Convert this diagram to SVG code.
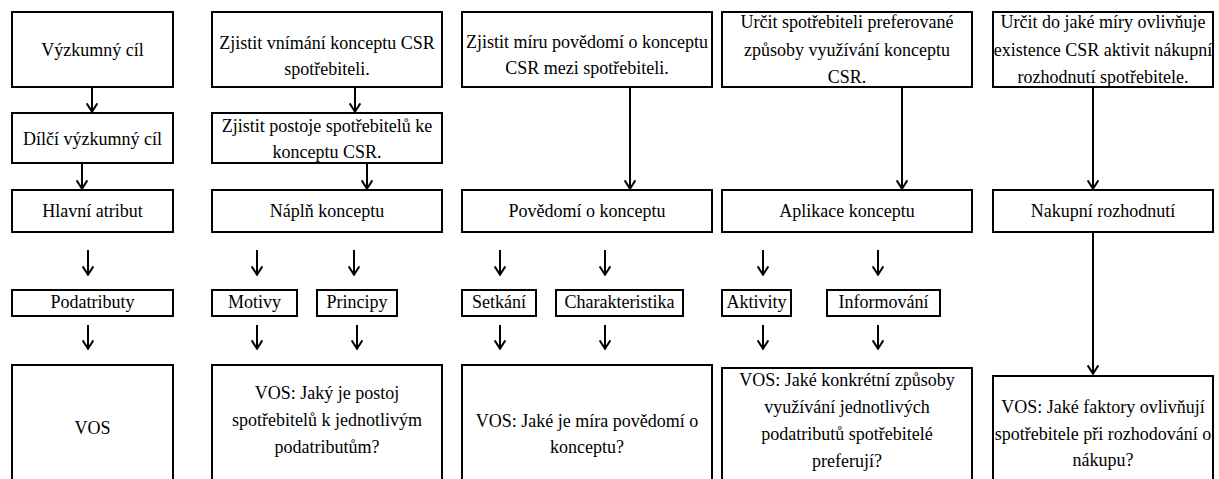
<svg xmlns="http://www.w3.org/2000/svg" width="1219" height="479" viewBox="0 0 1219 479">
<defs>
<style>
.b{fill:#fff;stroke:#000;stroke-width:2}
.t{font-family:'Liberation Serif','Tinos','DejaVu Serif',serif;font-size:18px;fill:#000;text-anchor:middle}
.c{stroke:#000;stroke-width:2;fill:none}
</style>
<marker id="ah" viewBox="0 0 10 12" refX="9.3" refY="6" markerWidth="10" markerHeight="12" markerUnits="userSpaceOnUse" orient="auto">
<polyline points="0.7,0.7 9,6 0.7,11.3" fill="none" stroke="#000" stroke-width="2"/>
</marker>
</defs>
<rect width="1219" height="479" fill="#fff"/>
<g id="connectors">
<g class="c" marker-end="url(#ah)">
<path d="M92,87V112"/>
<path d="M82,163V189"/>
<path d="M88,250V275"/>
<path d="M88,325V349"/>
<path d="M355,87V112"/>
<path d="M367,163V189"/>
<path d="M257,250V275"/>
<path d="M354,250V275"/>
<path d="M257,325V349"/>
<path d="M357,325V349"/>
<path d="M630,87V189"/>
<path d="M500,250V275"/>
<path d="M605,250V275"/>
<path d="M500,325V349"/>
<path d="M605,325V349"/>
<path d="M902,87V189"/>
<path d="M763,250V275"/>
<path d="M878,250V275"/>
<path d="M763,325V349"/>
<path d="M878,325V349"/>
<path d="M1093,87V189"/>
<path d="M1093,232V374"/>
</g>
</g>
<g font-family="Liberation Serif, Tinos, DejaVu Serif, serif">
<g id="n1"><rect class="b" x="12" y="12" width="161" height="75"/><text class="t" x="92.5" y="56">Výzkumný cíl</text></g>
<g id="n2"><rect class="b" x="12" y="113" width="161" height="50"/><text class="t" x="92.5" y="145">Dílčí výzkumný cíl</text></g>
<g id="n3"><rect class="b" x="12" y="190" width="161" height="42"/><text class="t" x="92.5" y="217">Hlavní atribut</text></g>
<g id="n4"><rect class="b" x="12" y="290" width="161" height="26"/><text class="t" x="92.5" y="308">Podatributy</text></g>
<g id="n5"><rect class="b" x="12" y="365" width="161" height="125"/><text class="t" x="92.5" y="434">VOS</text></g>

<g id="c2a"><rect class="b" x="212" y="12" width="230" height="75"/><text class="t" x="327" y="49">Zjistit vnímání konceptu CSR</text><text class="t" x="327" y="75">spotřebiteli.</text></g>
<g id="c2b"><rect class="b" x="212" y="113" width="230" height="50"/><text class="t" x="327" y="132">Zjistit postoje spotřebitelů ke</text><text class="t" x="327" y="158">konceptu CSR.</text></g>
<g id="c2c"><rect class="b" x="212" y="190" width="230" height="42"/><text class="t" x="327" y="217">Náplň konceptu</text></g>
<g id="c2d"><rect class="b" x="212" y="290" width="85" height="26"/><text class="t" x="254.5" y="308">Motivy</text></g>
<g id="c2e"><rect class="b" x="317" y="290" width="80" height="26"/><text class="t" x="357" y="308">Principy</text></g>
<g id="c2f"><rect class="b" x="212" y="365" width="230" height="125"/><text class="t" x="327" y="399">VOS: Jaký je postoj</text><text class="t" x="327" y="426">spotřebitelů k jednotlivým</text><text class="t" x="327" y="453">podatributům?</text></g>

<g id="c3a"><rect class="b" x="462" y="12" width="250" height="75"/><text class="t" x="587" y="48">Zjistit míru povědomí o konceptu</text><text class="t" x="587" y="74">CSR mezi spotřebiteli.</text></g>
<g id="c3c"><rect class="b" x="462" y="190" width="250" height="42"/><text class="t" x="587" y="217">Povědomí o konceptu</text></g>
<g id="c3d"><rect class="b" x="462" y="290" width="74" height="26"/><text class="t" x="499" y="308">Setkání</text></g>
<g id="c3e"><rect class="b" x="556" y="290" width="127" height="26"/><text class="t" x="619.5" y="308">Charakteristika</text></g>
<g id="c3f"><rect class="b" x="462" y="365" width="250" height="125"/><text class="t" x="587" y="427">VOS: Jaké je míra povědomí o</text><text class="t" x="587" y="453">konceptu?</text></g>

<g id="c4a"><rect class="b" x="722" y="12" width="250" height="75"/><text class="t" x="847" y="28">Určit spotřebiteli preferované</text><text class="t" x="847" y="56">způsoby využívání konceptu</text><text class="t" x="847" y="83">CSR.</text></g>
<g id="c4c"><rect class="b" x="722" y="190" width="250" height="42"/><text class="t" x="847" y="217">Aplikace konceptu</text></g>
<g id="c4d"><rect class="b" x="722" y="290" width="69" height="26"/><text class="t" x="756.5" y="308">Aktivity</text></g>
<g id="c4e"><rect class="b" x="827" y="290" width="113" height="26"/><text class="t" x="883.5" y="308">Informování</text></g>
<g id="c4f"><rect class="b" x="722" y="368" width="250" height="125"/><text class="t" x="847" y="386">VOS: Jaké konkrétní způsoby</text><text class="t" x="847" y="413">využívání jednotlivých</text><text class="t" x="847" y="440">podatributů spotřebitelé</text><text class="t" x="847" y="467">preferují?</text></g>

<g id="c5a"><rect class="b" x="993" y="12" width="220" height="75"/><text class="t" x="1103" y="28">Určit do jaké míry ovlivňuje</text><text class="t" x="1103" y="56">existence CSR aktivit nákupní</text><text class="t" x="1103" y="83">rozhodnutí spotřebitele.</text></g>
<g id="c5c"><rect class="b" x="993" y="190" width="220" height="42"/><text class="t" x="1103" y="217">Nakupní rozhodnutí</text></g>
<g id="c5f"><rect class="b" x="993" y="376" width="220" height="125"/><text class="t" x="1103" y="413">VOS: Jaké faktory ovlivňují</text><text class="t" x="1103" y="440">spotřebitele při rozhodování o</text><text class="t" x="1103" y="466">nákupu?</text></g>
</g>
</svg>
